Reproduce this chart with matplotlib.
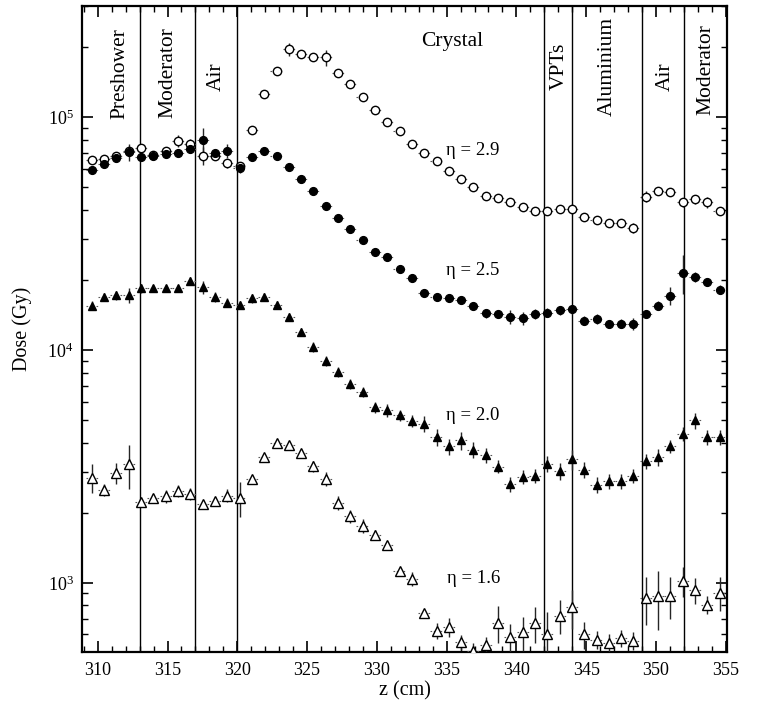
import matplotlib
matplotlib.use("Agg")
import matplotlib.pyplot as plt
from matplotlib.ticker import LogLocator, MultipleLocator, NullFormatter

plt.rcParams['font.family'] = ['Liberation Serif', 'DejaVu Serif']
plt.rcParams['mathtext.fontset'] = 'custom'
plt.rcParams['mathtext.rm'] = 'Liberation Serif'
plt.rcParams['mathtext.it'] = 'Liberation Serif:italic'

# bin centres along the beam axis (cm)
z = [309.58, 310.46, 311.34, 312.23, 313.11, 313.99, 314.87, 315.75, 316.64, 317.52,
     318.40, 319.28, 320.16, 321.05, 321.93, 322.81, 323.69, 324.57, 325.46, 326.34,
     327.22, 328.10, 328.98, 329.87, 330.75, 331.63, 332.51, 333.39, 334.28, 335.16,
     336.04, 336.92, 337.80, 338.69, 339.57, 340.45, 341.33, 342.21, 343.10, 343.98,
     344.86, 345.74, 346.62, 347.51, 348.39, 349.27, 350.15, 351.03, 351.92, 352.80,
     353.68, 354.56]
half_bin = 0.44

dose_29 = [65900, 66000, 68400, 71700, 74000, 68800, 71800, 79300, 76600, 68400,
           68400, 63400, 61900, 88200, 125700, 158000, 196000, 188000, 182000, 181000,
           154700, 138600, 121900, 107500, 95200, 87400, 76600, 70400, 64900, 58900,
           54600, 50300, 46000, 44900, 43100, 41200, 39600, 39500, 40300, 40300,
           37200, 36400, 35000, 35200, 33500, 45600, 48200, 47900, 43100, 44400,
           43200, 39600]
err_29 = [2500, 2000, 2000, 2500, 3000, 2000, 2500, 4500, 4000, 6000,
          2500, 3000, 2500, 3500, 4500, 6000, 13000, 6000, 6000, 14000,
          4500, 4000, 3500, 3000, 2500, 2500, 2000, 2000, 2000, 1800,
          1600, 1500, 1400, 1300, 1300, 1200, 1200, 1200, 1500, 2000,
          1200, 1100, 1000, 1300, 1500, 2500, 1500, 1500, 1800, 2000,
          2500, 1500]

dose_25 = [59300, 62800, 66700, 71100, 67700, 68400, 69500, 70000, 73000, 79800,
           70000, 71800, 60400, 67700, 71800, 68400, 61400, 54100, 48200, 41700,
           37000, 33300, 29700, 26400, 25000, 22400, 20400, 17600, 16900, 16700,
           16400, 15500, 14400, 14300, 13900, 13700, 14300, 14500, 14800, 15000,
           13400, 13600, 12900, 13000, 13000, 14300, 15500, 17100, 21500, 20600,
           19600, 18200]
err_25 = [2000, 2000, 2500, 6000, 2000, 2000, 2000, 2500, 2500, 10000,
          2500, 5000, 2500, 2000, 2000, 2000, 2000, 1800, 1500, 1300,
          1200, 1000, 900, 800, 800, 800, 700, 600, 600, 600,
          600, 600, 600, 600, 900, 900, 700, 600, 600, 700,
          600, 700, 500, 600, 800, 500, 700, 1500, 4000, 1000,
          800, 800]

dose_20 = [15500, 16900, 17200, 17200, 18400, 18400, 18400, 18400, 19800, 18600,
           16900, 16000, 15700, 16700, 16900, 15600, 13900, 11950, 10300, 8960,
           8050, 7180, 6610, 5690, 5510, 5240, 4960, 4830, 4230, 3860,
           4090, 3730, 3530, 3160, 2660, 2850, 2890, 3250, 3020, 3390,
           3060, 2640, 2730, 2730, 2890, 3330, 3470, 3870, 4380, 4990,
           4230, 4230]
err_20 = [700, 700, 800, 1200, 800, 700, 700, 700, 800, 1200,
          800, 700, 600, 700, 700, 600, 500, 500, 500, 450,
          400, 350, 350, 300, 350, 300, 300, 400, 350, 300,
          350, 300, 250, 200, 200, 200, 200, 250, 250, 350,
          250, 200, 200, 200, 200, 250, 300, 250, 300, 400,
          300, 300]

dose_16 = [2830, 2510, 2970, 3230, 2220, 2310, 2360, 2490, 2410, 2190,
           2240, 2370, 2320, 2800, 3470, 4000, 3900, 3610, 3170, 2800,
           2200, 1930, 1760, 1610, 1460, 1122, 1040, 740, 624, 645,
           556, 510, 543, 673, 583, 612, 670, 600, 723, 785,
           600, 570, 552, 580, 565, 861, 875, 881, 1023, 933,
           807, 906]
err_16 = [400, 150, 300, 700, 80, 100, 150, 150, 150, 70,
          100, 150, 400, 100, 100, 150, 150, 150, 180, 200,
          150, 130, 120, 80, 50, 40, 70, 25, 50, 60,
          40, 40, 40, 120, 80, 100, 120, 150, 120, 150,
          80, 50, 50, 50, 50, 200, 250, 180, 150, 120,
          70, 150]

boundaries = [313, 317, 320, 342, 344, 349, 352]
region_labels = [("Preshower", 311.6, 155000, 90),
                 ("Moderator", 315.0, 156000, 90),
                 ("Air", 318.5, 149000, 90),
                 ("Crystal", 335.4, 211000, 0),
                 ("VPTs", 343.1, 166000, 90),
                 ("Aluminium", 346.5, 165000, 90),
                 ("Air", 350.7, 149000, 90),
                 ("Moderator", 353.6, 160000, 90)]
eta_labels = [(r"η = 2.9", 336.9, 72300),
              (r"η = 2.5", 336.9, 22000),
              (r"η = 2.0", 336.9, 5250),
              (r"η = 1.6", 336.9, 1040)]

fig = plt.figure(figsize=(7.59, 7.04), dpi=100)
ax = fig.add_axes([0.108, 0.074, 0.850, 0.917])

for xb in boundaries:
    ax.axvline(xb, color='black', lw=1.0, zorder=1)


def draw(values, errors, marker, filled, ms):
    face = 'black' if filled else 'white'
    eb = ax.errorbar(z, values, yerr=errors, xerr=half_bin, fmt=marker, ms=ms,
                     mfc=face, mec='black', mew=1.0, ecolor='black',
                     elinewidth=1.0, capsize=0, zorder=3)
    xbars, ybars = eb[2]
    xbars.set_linestyle((0, (1.5, 1.5)))
    xbars.set_color('0.35')
    xbars.set_linewidth(0.8)
    ybars.set_color('0.15')


draw(dose_29, err_29, 'o', False, 6.0)
draw(dose_25, err_25, 'o', True, 5.6)
draw(dose_20, err_20, '^', True, 6.2)
draw(dose_16, err_16, '^', False, 6.8)

for text, xt, yt, rot in region_labels:
    ax.text(xt, yt, text, rotation=rot, ha='center', va='center', fontsize=15.5)
for text, xt, yt in eta_labels:
    ax.text(xt, yt, text, ha='center', va='center', fontsize=13.5)

ax.set_yscale('log')
ax.set_xlim(308.87, 355.1)
ax.set_ylim(505, 3.0e5)
ax.xaxis.set_major_locator(MultipleLocator(5))
ax.xaxis.set_minor_locator(MultipleLocator(1))
ax.yaxis.set_major_locator(LogLocator(base=10))
ax.yaxis.set_minor_locator(LogLocator(base=10, subs=range(2, 10)))
ax.yaxis.set_minor_formatter(NullFormatter())

ax.tick_params(which='both', direction='in', top=True, right=True, labelsize=13)
ax.tick_params(which='major', length=8, width=1.2)
ax.tick_params(which='minor', length=4.5, width=1.0)
ax.tick_params(axis='x', pad=7)
ax.tick_params(axis='y', pad=6)
for s in ax.spines.values():
    s.set_linewidth(1.6)

ax.set_xlabel("z (cm)", fontsize=14.5, labelpad=2)
ax.set_ylabel("Dose (Gy)", fontsize=14.5, labelpad=11)

fig.savefig("out.png", dpi=100)
